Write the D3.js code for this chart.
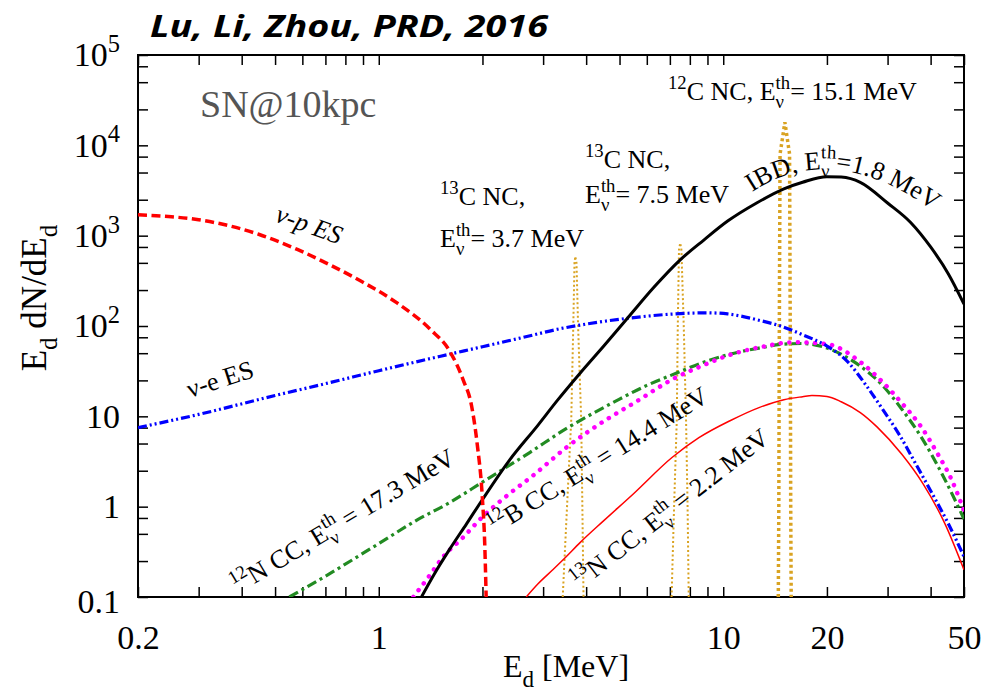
<!DOCTYPE html>
<html>
<head>
<meta charset="utf-8">
<script src="https://cdn.jsdelivr.net/npm/d3@7"></script>
<style>
  body { margin: 0; background: #fff; }
</style>
</head>
<body>
<svg id="chart" width="981" height="694"></svg>
<script>
// ---- data: E_d [MeV] vs E_d dN/dE_d ----
const nupE = [0.2, 0.25, 0.3, 0.37, 0.45, 0.58, 0.72, 0.9, 1.13, 1.41, 1.61, 1.76, 1.86, 1.93, 2.0, 2.03, 2.05];
const nupN = [1700, 1620, 1500, 1280, 1030, 704, 477, 305, 180, 92, 52, 25, 13, 5, 1.2, 0.4, 0.1];

const nueE = [0.2, 0.3, 0.5, 0.7, 1, 1.5, 2, 2.75, 3.3, 4, 5.3, 7, 9, 10.3, 12.8, 14.9, 17, 20, 23, 26, 29, 32.5, 36, 40, 45, 50];
const nueN = [7.5, 10.5, 17, 23, 32, 46, 59, 78, 92, 105, 122, 135, 140, 136, 115, 98, 80, 60, 40, 22, 12, 6.2, 3.1, 1.5, 0.65, 0.28];

const ibdE = [1.33, 1.45, 1.6, 1.8, 2, 2.4, 2.9, 3.3, 3.84, 4.5, 5.3, 6.3, 7.5, 8.8, 10.3, 12.5, 15, 17, 20, 22, 25, 30, 35, 40, 45, 50];
const ibdN = [0.1, 0.18, 0.33, 0.65, 1.2, 3.3, 8, 15, 30, 60, 125, 270, 540, 900, 1450, 2300, 3300, 3900, 4500, 4450, 3900, 2300, 1400, 750, 380, 175];

const n12E = [0.55, 0.7, 1, 1.29, 1.6, 2, 2.75, 3.5, 4, 5, 6, 7.3, 8.5, 10.3, 12.7, 15, 17, 20, 24, 29, 33, 38, 44, 50];
const n12N = [0.1, 0.17, 0.39, 0.71, 1.1, 1.87, 4.0, 7.3, 9.8, 15.5, 22, 30, 38, 48, 57, 63, 64, 57, 40, 22, 12, 5.5, 2.0, 0.73];

const b12E = [1.26, 1.4, 1.54, 1.75, 2, 2.4, 2.8, 3.5, 4.6, 5.5, 7.3, 8.5, 10.3, 13, 16, 20, 25, 29, 33, 37.6, 42, 46, 50];
const b12N = [0.1, 0.17, 0.28, 0.45, 0.77, 1.4, 2.2, 4.5, 9.3, 14, 27, 35, 47, 59, 66, 63, 40, 24, 14, 7.6, 3.8, 2.0, 0.9];

const n13E = [2.68, 2.9, 3.2, 3.47, 3.84, 4.5, 5.5, 7.1, 8.5, 10.5, 12.7, 15, 17, 18.1, 20, 22, 25, 28, 33, 38, 44, 50];
const n13N = [0.1, 0.14, 0.2, 0.27, 0.4, 0.7, 1.4, 3.5, 5.8, 9.0, 12.5, 15.3, 16.5, 17, 16.6, 14.5, 11, 7.6, 3.8, 1.8, 0.65, 0.2];

const c13aE = [3.42, 3.52, 3.62, 3.67, 3.7, 3.72, 3.75, 3.79, 3.87, 3.9, 3.93];
const c13aN = [0.1, 1, 9, 100, 500, 590, 500, 100, 9, 1, 0.1];

const c13bE = [7.08, 7.2, 7.33, 7.38, 7.44, 7.5, 7.56, 7.68, 7.8, 7.88, 7.94];
const c13bN = [0.1, 1, 9, 100, 700, 830, 700, 100, 9, 1, 0.1];

const c12E = [14.45, 14.5, 14.55, 14.62, 15.1, 15.58, 15.65, 15.7, 15.75];
const c12N = [0.1, 1, 100, 8000, 18000, 8000, 100, 1, 0.1];

const xLabelTicks = [0.2, 1, 10, 20, 50];
const xMinorTicks = [0.3, 0.4, 0.5, 0.6, 0.7, 0.8, 0.9, 2, 3, 4, 5, 6, 7, 8, 9, 30, 40];
const yLabelTicks = [0.1, 1, 10, 100, 1000, 10000, 100000];
const yMinorSteps = [2.5, 5, 7.5];

// ---- layout ----
const L = 138, R = 964, T = 55, B = 597;
const serif = "'Liberation Serif', 'Times New Roman', serif";
const annFs = 26;

const svg = d3.select("#chart");
const x = d3.scaleLog().domain([0.2, 50]).range([L, R]);
const y = d3.scaleLog().domain([0.1, 1e5]).range([B, T]);

// rich text: parts = [[str, kind]], kind: "", "sup", "sub", "under" (sub stacked under previous sup), "it"
function rich(sel, parts, fs) {
  let base = 0, pend = 0, supW = 0;
  parts.forEach(([str, k]) => {
    const ts = sel.append("tspan").text(str);
    const small = k === "sup" || k === "sub" || k === "under";
    const off = k === "sup" ? -0.42 * fs : small ? 0.3 * fs : 0;
    if (off - base) ts.attr("dy", off - base);
    base = off;
    if (small) ts.attr("font-size", 0.72 * fs);
    if (k === "it") ts.attr("font-style", "italic");
    let dx = pend; pend = 0;
    if (k === "under") dx -= supW;
    if (dx) ts.attr("dx", dx);
    const w = ts.node().getComputedTextLength();
    if (k === "sup") supW = w;
    if (k === "under") pend = Math.max(0, supW - w);
  });
}

// ---- ticks ----
const yMinor = [];
yLabelTicks.slice(0, -1).forEach(d => yMinorSteps.forEach(s => yMinor.push(d * s)));
const yAll = yLabelTicks.concat(yMinor);
const xAll = xLabelTicks.concat(xMinorTicks);

function styleAxis(g) {
  g.select(".domain").remove();
  g.selectAll(".tick line").attr("stroke", "#000").attr("stroke-width", 1.5);
  g.attr("font-family", serif).attr("font-size", 34);
}

svg.append("g").attr("transform", `translate(0,${B})`)
  .call(d3.axisBottom(x).tickValues(xAll).tickSize(-10).tickPadding(28)
    .tickFormat(d => xLabelTicks.includes(d) ? String(d) : ""))
  .call(styleAxis);

svg.append("g").attr("transform", `translate(0,${T})`)
  .call(d3.axisTop(x).tickValues(xAll).tickSize(-10).tickFormat(""))
  .call(styleAxis);

const yAxisG = svg.append("g").attr("transform", `translate(${L},0)`)
  .call(d3.axisLeft(y).tickValues(yAll).tickSize(-10).tickPadding(18)
    .tickFormat(d => yLabelTicks.includes(d) ? "L" : ""))
  .call(styleAxis);

yAxisG.selectAll(".tick text").each(function (d) {
  const t = d3.select(this);
  if (!yLabelTicks.includes(d)) return;
  t.text("");
  const e = Math.round(Math.log10(d));
  if (e <= 1) rich(t, [[String(d), ""]], 34);
  else rich(t, [["10", ""], [String(e), "sup"]], 34);
  if (d === 0.1) t.attr("y", 5);
});

svg.append("g").attr("transform", `translate(${R},0)`)
  .call(d3.axisRight(y).tickValues(yAll).tickSize(-10).tickFormat(""))
  .call(styleAxis);

// frame
svg.append("rect").attr("x", L).attr("y", T).attr("width", R - L).attr("height", B - T)
  .attr("fill", "none").attr("stroke", "#000").attr("stroke-width", 2);

// ---- curves ----
svg.append("clipPath").attr("id", "plot").append("rect")
  .attr("x", L).attr("y", T).attr("width", R - L).attr("height", B - T);

const plot = svg.append("g").attr("clip-path", "url(#plot)");

function curve(E, N, style, smooth) {
  const line = d3.line().x(d => x(d[0])).y(d => y(d[1]))
    .curve(smooth ? d3.curveMonotoneX : d3.curveLinear);
  plot.append("path").datum(d3.zip(E, N)).attr("d", line).attr("fill", "none")
    .attr("stroke", style.c).attr("stroke-width", style.w)
    .attr("stroke-dasharray", style.dash || null)
    .attr("stroke-linecap", style.cap || "butt");
}

const gold = "#d9a322";
curve(c13aE, c13aN, { c: gold, w: 2, dash: "2,2.5" }, false);
curve(c13bE, c13bN, { c: gold, w: 2, dash: "2,2.5" }, false);
curve(c12E, c12N, { c: gold, w: 3.5, dash: "3,3" }, false);
curve(n13E, n13N, { c: "#ff0000", w: 1.5 }, true);
curve(n12E, n12N, { c: "#228b22", w: 3.2, dash: "10,4,3,4" }, true);
curve(b12E, b12N, { c: "#ff00ff", w: 4.5, dash: "0.1,8.5", cap: "round" }, true);
curve(nueE, nueN, { c: "#0000ff", w: 3.2, dash: "9,3,2,3,2,3" }, true);
curve(ibdE, ibdN, { c: "#000000", w: 3 }, true);
curve(nupE, nupN, { c: "#ff0000", w: 3.5, dash: "9,4.5" }, true);

// ---- texts ----
svg.append("text").attr("x", 150).attr("y", 37)
  .attr("font-family", "'Open Sans', 'Liberation Sans', sans-serif")
  .attr("font-weight", "bold").attr("font-style", "italic").attr("font-size", 30)
  .attr("textLength", 398).attr("lengthAdjust", "spacingAndGlyphs")
  .text("Lu, Li, Zhou, PRD, 2016");

svg.append("text").attr("x", 200).attr("y", 117)
  .attr("font-family", serif).attr("font-size", 38).attr("fill", "#555")
  .text("SN@10kpc");

const xt = svg.append("text").attr("x", 566).attr("y", 677).attr("text-anchor", "middle")
  .attr("font-family", serif).attr("font-size", 32);
rich(xt, [["E", ""], ["d", "sub"], [" [MeV]", ""]], 32);

const yt = svg.append("text").attr("transform", "translate(46,298) rotate(-90)")
  .attr("text-anchor", "middle").attr("font-family", serif).attr("font-size", 35);
rich(yt, [["E", ""], ["d", "sub"], [" dN/dE", ""], ["d", "sub"]], 35);

function label(px, py, angle, parts, fs) {
  const t = svg.append("text")
    .attr("transform", `translate(${px},${py}) rotate(${angle})`)
    .attr("font-family", serif).attr("font-size", fs || annFs);
  rich(t, parts, fs || annFs);
  return t;
}

const Eth = (rest) => [["E", ""], ["th", "sup"], ["\u03bd", "under"], [rest, ""]];

label(274, 221, 20, [["\u03bd-p ES", "it"]]);
label(190, 398, -18, [["\u03bd-e ES", ""]]);
label(440, 205, 0, [["13", "sup"], ["C NC,", ""]]);
label(440, 247, 0, Eth("= 3.7 MeV"));
label(585, 168, 0, [["13", "sup"], ["C NC,", ""]]);
label(585, 203, 0, Eth("= 7.5 MeV"));
label(668, 100, 0, [["12", "sup"], ["C NC, ", ""]].concat(Eth("= 15.1 MeV")));
label(238, 594, -31, [["12", "sup"], ["N CC, ", ""]].concat(Eth(" = 17.3 MeV")));
label(495, 535, -32, [["12", "sup"], ["B CC, ", ""]].concat(Eth(" = 14.4 MeV")));
label(580, 590, -38, [["13", "sup"], ["N CC, ", ""]].concat(Eth(" = 2.2 MeV")));

// IBD label bent along the top of the curve
svg.append("path").attr("id", "ibdArc").attr("d", "M 752 192 Q 842 132 958 230").attr("fill", "none");
const ibdText = svg.append("text").attr("font-family", serif).attr("font-size", annFs)
  .append("textPath").attr("href", "#ibdArc");
rich(ibdText, [["IBD, ", ""]].concat(Eth("=1.8 MeV")), annFs);
</script>
</body>
</html>
